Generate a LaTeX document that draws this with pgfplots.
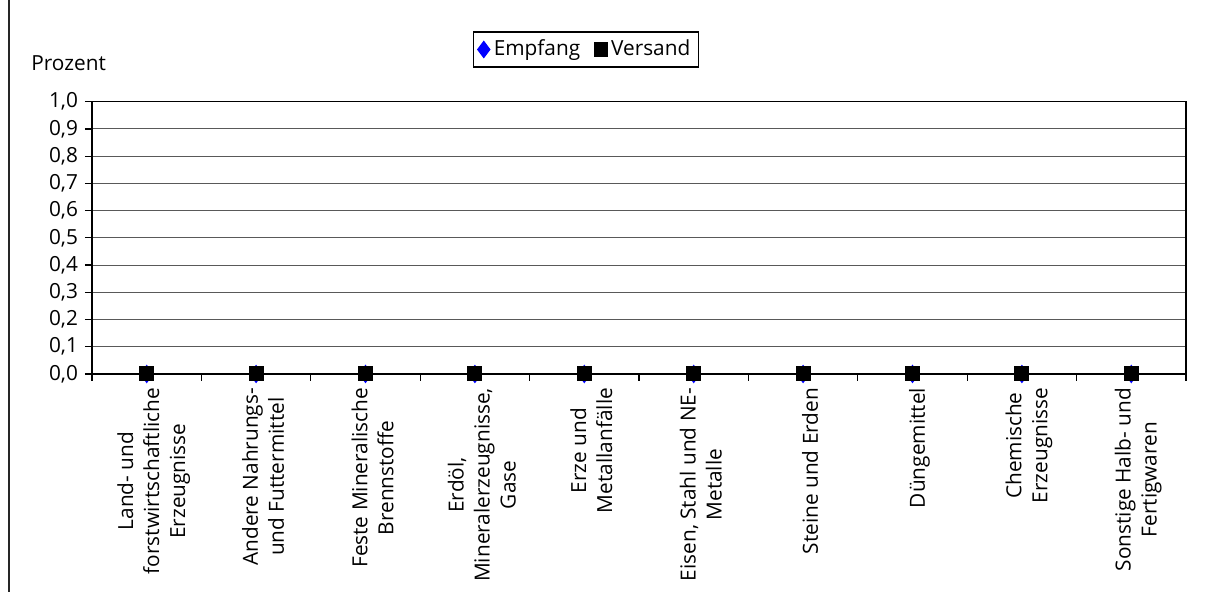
\documentclass[border=0pt]{standalone}
\usepackage{fontspec}
\setmainfont{Open Sans}
\usepackage{pgfplots}
\pgfplotsset{compat=1.18}

\pgfplotstableread{
x empfang versand
0 0 0
1 0 0
2 0 0
3 0 0
4 0 0
5 0 0
6 0 0
7 0 0
8 0 0
9 0 0
}\transport

\begin{document}
\begin{tikzpicture}[font=\fontsize{10.4}{13}\selectfont]
\useasboundingbox (-46pt,-109pt) rectangle (557pt,187pt);
\begin{axis}[
  at={(0,0)}, anchor=south west,
  width=547pt, height=136.15pt, scale only axis,
  xmin=-0.5, xmax=9.5, ymin=0, ymax=1,
  clip=false,
  axis line style={black, line width=0.6pt},
  tick align=outside, tick pos=left,
  major tick length=3.5pt, minor tick length=3.5pt,
  tick style={black, line width=0.6pt},
  ytick distance=0.1,
  ymajorgrids, grid style={black!65, line width=0.5pt},
  yticklabel style={/pgf/number format/.cd, fixed, fixed zerofill, precision=1, use comma, assume math mode=true},
  xtick={0,...,9},
  major x tick style={draw=none},
  minor xtick={-0.5,0.5,...,9.5},
  xticklabels={
    {Land- und\\forstwirtschaftliche\\Erzeugnisse},
    {Andere Nahrungs-\\und Futtermittel},
    {Feste Mineralische\\Brennstoffe},
    {Erdöl,\\Mineralerzeugnisse,\\Gase},
    {Erze und\\Metallanfälle},
    {Eisen, Stahl und NE-\\Metalle},
    {Steine und Erden},
    {Düngemittel},
    {Chemische\\Erzeugnisse},
    {Sonstige Halb- und\\Fertigwaren}},
  xticklabel style={rotate=90, anchor=east, align=center, yshift=-3.5pt},
  legend columns=2,
  legend style={at={(0.4516,1.1917)}, anchor=center, draw=black, line width=0.6pt,
    inner sep=2pt, /tikz/every even column/.append style={column sep=5pt}},
  legend cell align=left,
]
\addplot[blue, line width=0.8pt, mark=diamond*, mark size=4pt, mark options={fill=blue, draw=blue}, forget plot]
  table[x=x, y=empfang] {\transport};
\addplot[black, line width=1pt, mark=square*, mark size=3.25pt, mark options={fill=black, draw=black}, forget plot]
  table[x=x, y=versand] {\transport};
\addlegendimage{only marks, mark=diamond*, mark size=4pt, blue, mark options={fill=blue}}
\addlegendentry{Empfang}
\addlegendimage{only marks, mark=square*, mark size=3.25pt, black, mark options={fill=black}}
\addlegendentry{Versand}
\end{axis}
\node[anchor=base west, inner sep=0pt] at (-30.5pt,151.5pt) {Prozent};
\draw[black!85, line width=1pt] (-41.5pt,-109pt) -- (-41.5pt,187pt);
\end{tikzpicture}
\end{document}
